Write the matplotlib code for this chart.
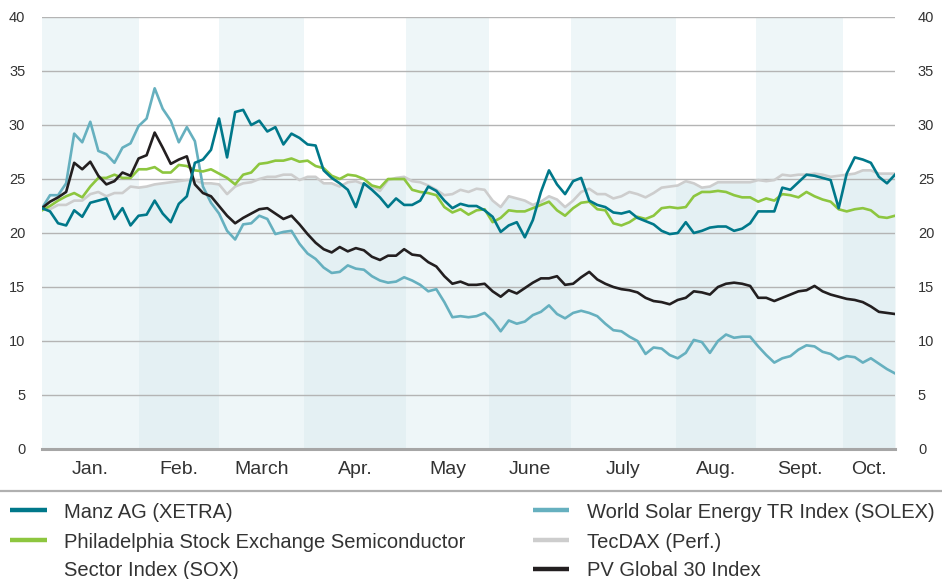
import numpy as np
import matplotlib
matplotlib.use("Agg")
import matplotlib.pyplot as plt
from matplotlib.lines import Line2D
from matplotlib import font_manager

# ---------------- data ----------------
days = np.arange(0, 213, 2)  # trading-day index, 107 points
month_labels = ["Jan.", "Feb.", "March", "Apr.", "May", "June", "July", "Aug.", "Sept.", "Oct."]
month_edges = [0, 24, 44, 65, 90.5, 111, 131.5, 157.5, 177.5, 199, 212]
y_ticks = [0, 5, 10, 15, 20, 25, 30, 35, 40]

manz = [22.3, 22.0, 20.9, 20.7, 22.1, 21.5, 22.8, 23.0, 23.2, 21.3,
        22.3, 20.7, 21.6, 21.7, 23.0, 21.8, 21.0, 22.7, 23.4, 26.5,
        26.8, 27.7, 30.6, 27.0, 31.2, 31.4, 30.0, 30.4, 29.4, 29.8,
        28.2, 29.2, 28.8, 28.2, 28.1, 25.8, 25.1, 24.6, 24.0, 22.4,
        24.6, 24.0, 23.3, 22.4, 23.2, 22.6, 22.6, 23.0, 24.3, 23.9,
        23.0, 22.3, 22.7, 22.5, 22.5, 22.1, 21.5, 20.1, 20.7, 21.0,
        19.6, 21.2, 23.8, 25.8, 24.5, 23.6, 24.8, 25.1, 23.0, 22.6,
        22.4, 21.9, 21.8, 22.0, 21.4, 21.1, 20.8, 20.2, 19.9, 20.0,
        21.0, 20.0, 20.2, 20.5, 20.6, 20.6, 20.2, 20.4, 20.9, 22.0,
        22.0, 22.0, 24.2, 24.0, 24.7, 25.4, 25.3, 25.1, 24.9, 22.3,
        25.5, 27.0, 26.8, 26.5, 25.2, 24.6, 25.4]

sox = [22.1, 22.5, 23.0, 23.4, 23.7, 23.3, 24.3, 25.1, 25.1, 25.4,
       25.1, 25.1, 25.9, 25.9, 26.1, 25.6, 25.6, 26.3, 26.2, 25.8,
       25.7, 25.9, 25.5, 25.1, 24.5, 25.4, 25.6, 26.4, 26.5, 26.7,
       26.7, 26.9, 26.6, 26.7, 26.2, 26.0, 25.3, 25.0, 25.4, 25.3,
       25.0, 24.4, 24.2, 25.0, 25.0, 25.0, 24.0, 23.8, 23.7, 23.5,
       22.4, 21.9, 22.2, 21.7, 22.1, 22.2, 21.0, 21.4, 22.1, 22.0,
       22.0, 22.3, 22.6, 22.9, 22.1, 21.6, 22.3, 22.8, 22.9, 22.2,
       22.1, 20.9, 20.7, 21.0, 21.5, 21.3, 21.6, 22.3, 22.4, 22.3,
       22.4, 23.4, 23.8, 23.8, 23.9, 23.8, 23.5, 23.3, 23.3, 22.9,
       23.2, 23.0, 23.6, 23.5, 23.3, 23.8, 23.4, 23.1, 22.9, 22.2,
       22.0, 22.2, 22.3, 22.1, 21.5, 21.4, 21.6]

solex = [22.3, 23.5, 23.5, 24.6, 29.2, 28.4, 30.3, 27.6, 27.3, 26.5,
         27.9, 28.3, 29.9, 30.6, 33.4, 31.5, 30.4, 28.4, 29.8, 28.5,
         24.3, 22.8, 21.8, 20.2, 19.4, 20.8, 20.9, 21.6, 21.3, 19.9,
         20.1, 20.2, 19.0, 18.1, 17.6, 16.8, 16.3, 16.4, 17.0, 16.7,
         16.6, 16.0, 15.6, 15.4, 15.5, 15.9, 15.6, 15.2, 14.6, 14.8,
         13.6, 12.2, 12.3, 12.2, 12.3, 12.6, 11.9, 10.9, 11.9, 11.6,
         11.8, 12.4, 12.7, 13.3, 12.5, 12.1, 12.6, 12.8, 12.6, 12.3,
         11.6, 11.0, 10.9, 10.4, 10.0, 8.8, 9.4, 9.3, 8.7, 8.4,
         8.9, 10.1, 9.9, 8.9, 10.0, 10.6, 10.3, 10.4, 10.4, 9.5,
         8.7, 8.0, 8.4, 8.6, 9.2, 9.6, 9.5, 9.0, 8.8, 8.3,
         8.6, 8.5, 8.0, 8.4, 7.9, 7.4, 7.0]

tecdax = [22.2, 22.2, 22.6, 22.6, 23.0, 23.0, 23.6, 23.8, 23.4, 23.7,
          23.7, 24.3, 24.2, 24.3, 24.5, 24.6, 24.7, 24.8, 24.9, 24.9,
          24.6, 24.6, 24.5, 23.6, 24.3, 24.6, 24.7, 25.0, 25.2, 25.2,
          25.4, 25.4, 24.9, 25.2, 25.2, 24.6, 24.6, 24.3, 24.7, 24.8,
          24.5, 24.3, 23.9, 24.9, 25.1, 25.2, 24.8, 24.7, 24.4, 24.0,
          23.5, 23.6, 24.0, 23.8, 24.1, 24.0, 23.0, 22.4, 23.4, 23.2,
          23.0, 22.6, 22.9, 23.4, 23.1, 22.4, 23.0, 23.8, 24.1, 23.6,
          23.6, 23.2, 23.4, 23.8, 23.6, 23.3, 23.7, 24.2, 24.3, 24.4,
          24.8, 24.6, 24.2, 24.3, 24.7, 24.7, 24.7, 24.7, 24.7, 24.9,
          24.8, 24.9, 25.4, 25.3, 25.4, 25.4, 25.5, 25.4, 25.2, 25.3,
          25.4, 25.5, 25.8, 25.8, 25.5, 25.5, 25.5]

pv = [22.3, 22.9, 23.3, 23.8, 26.5, 25.9, 26.6, 25.3, 24.5, 24.8,
      25.6, 25.3, 26.9, 27.2, 29.3, 27.9, 26.4, 26.8, 27.1, 24.5,
      23.7, 23.4, 22.5, 21.6, 20.9, 21.4, 21.8, 22.2, 22.3, 21.8,
      21.3, 21.6, 20.8, 19.9, 19.1, 18.5, 18.2, 18.7, 18.3, 18.6,
      18.4, 17.8, 17.5, 17.9, 17.9, 18.5, 18.0, 17.9, 17.3, 16.9,
      16.0, 15.3, 15.5, 15.2, 15.2, 15.3, 14.6, 14.1, 14.7, 14.4,
      14.9, 15.4, 15.8, 15.8, 16.0, 15.2, 15.3, 15.9, 16.4, 15.7,
      15.3, 15.0, 14.8, 14.7, 14.5, 14.0, 13.7, 13.6, 13.4, 13.8,
      14.0, 14.6, 14.5, 14.3, 15.0, 15.3, 15.4, 15.3, 15.1, 14.0,
      14.0, 13.7, 14.0, 14.3, 14.6, 14.7, 15.1, 14.6, 14.3, 14.1,
      13.9, 13.8, 13.6, 13.2, 12.7, 12.6, 12.5]

series_labels = ["Manz AG (XETRA)",
                 "Philadelphia Stock Exchange Semiconductor\nSector Index (SOX)",
                 "World Solar Energy TR Index (SOLEX)",
                 "TecDAX (Perf.)",
                 "PV Global 30 Index"]

# ---------------- style ----------------
C_MANZ = "#00788a"
C_SOX = "#8dc63f"
C_SOLEX = "#66b0bf"
C_TEC = "#cdcdcd"
C_PV = "#231f20"
BAND_LIGHT = "#eef6f8"
BAND_DARK = "#e4f0f3"
TXT = "#333333"

avail = {f.name for f in font_manager.fontManager.ttflist}
fam = "Liberation Sans" if "Liberation Sans" in avail else "DejaVu Sans"
plt.rcParams["font.family"] = [fam, "DejaVu Sans"]

W, H = 942, 579
fig = plt.figure(figsize=(W / 100, H / 100), dpi=100)
ax = fig.add_axes([42 / W, 130 / H, 853 / W, 432 / H])
ax.set_xlim(month_edges[0], month_edges[-1])
ax.set_ylim(0, 40)

# area below TecDAX (darker), odd-month columns in light tint over full height
ax.fill_between(days, 0, tecdax, color=BAND_DARK, lw=0, zorder=0)
for i in range(len(month_labels)):
    if i % 2 == 0:
        ax.axvspan(month_edges[i], month_edges[i + 1], color=BAND_LIGHT, lw=0, zorder=0.5)

for yv in y_ticks[1:]:
    ax.axhline(yv, color="#b4b4b4", lw=1.0, zorder=1)
ax.axhline(0, color="#a6a6a6", lw=2.2, zorder=6, clip_on=False)

lw = 1.9
ax.plot(days, tecdax, color=C_TEC, lw=lw, zorder=3)
ax.plot(days, solex, color=C_SOLEX, lw=lw, zorder=3.2)
ax.plot(days, sox, color=C_SOX, lw=lw, zorder=3.4)
ax.plot(days, pv, color=C_PV, lw=lw, zorder=3.6)
ax.plot(days, manz, color=C_MANZ, lw=lw, zorder=3.8)

for s in ax.spines.values():
    s.set_visible(False)

centers = [(month_edges[i] + month_edges[i + 1]) / 2 for i in range(len(month_labels))]
ax.set_xticks(centers)
ax.set_xticklabels(month_labels)
ax.tick_params(axis="x", length=0, pad=9, labelsize=14, colors=TXT)
ax.set_yticks(y_ticks)
ax.tick_params(axis="y", length=0, pad=12, labelsize=10.5, colors=TXT)

ax2 = ax.twinx()
ax2.set_ylim(0, 40)
ax2.set_yticks(y_ticks)
ax2.tick_params(axis="y", length=0, pad=16.5, labelsize=10.5, colors=TXT)
for s in ax2.spines.values():
    s.set_visible(False)

# separator above legend
fig.add_artist(Line2D([0, 1], [1 - 491 / H] * 2, transform=fig.transFigure,
                      color="#b0b0b0", lw=1.6))

# legend (two columns, manual layout; wrapped labels continue on next row)
colors = [C_MANZ, C_SOX, C_SOLEX, C_TEC, C_PV]
slots = [(0, 0), (0, 1), (1, 0), (1, 1), (1, 2)]
col_handle_x = [(10, 47), (533, 569)]
col_text_x = [64, 587]
row_y = [510, 540, 569]
for lab, c, (col, row) in zip(series_labels, colors, slots):
    yy = 1 - row_y[row] / H
    x0, x1 = col_handle_x[col]
    fig.add_artist(Line2D([x0 / W, x1 / W], [yy, yy], transform=fig.transFigure,
                          color=c, lw=3.2, solid_capstyle="butt"))
    for j, line in enumerate(lab.split("\n")):
        ly = 1 - row_y[row + j] / H
        fig.text(col_text_x[col] / W, ly, line, fontsize=14.5, color=TXT,
                 va="center_baseline", ha="left")

fig.savefig("out.png", dpi=100)
